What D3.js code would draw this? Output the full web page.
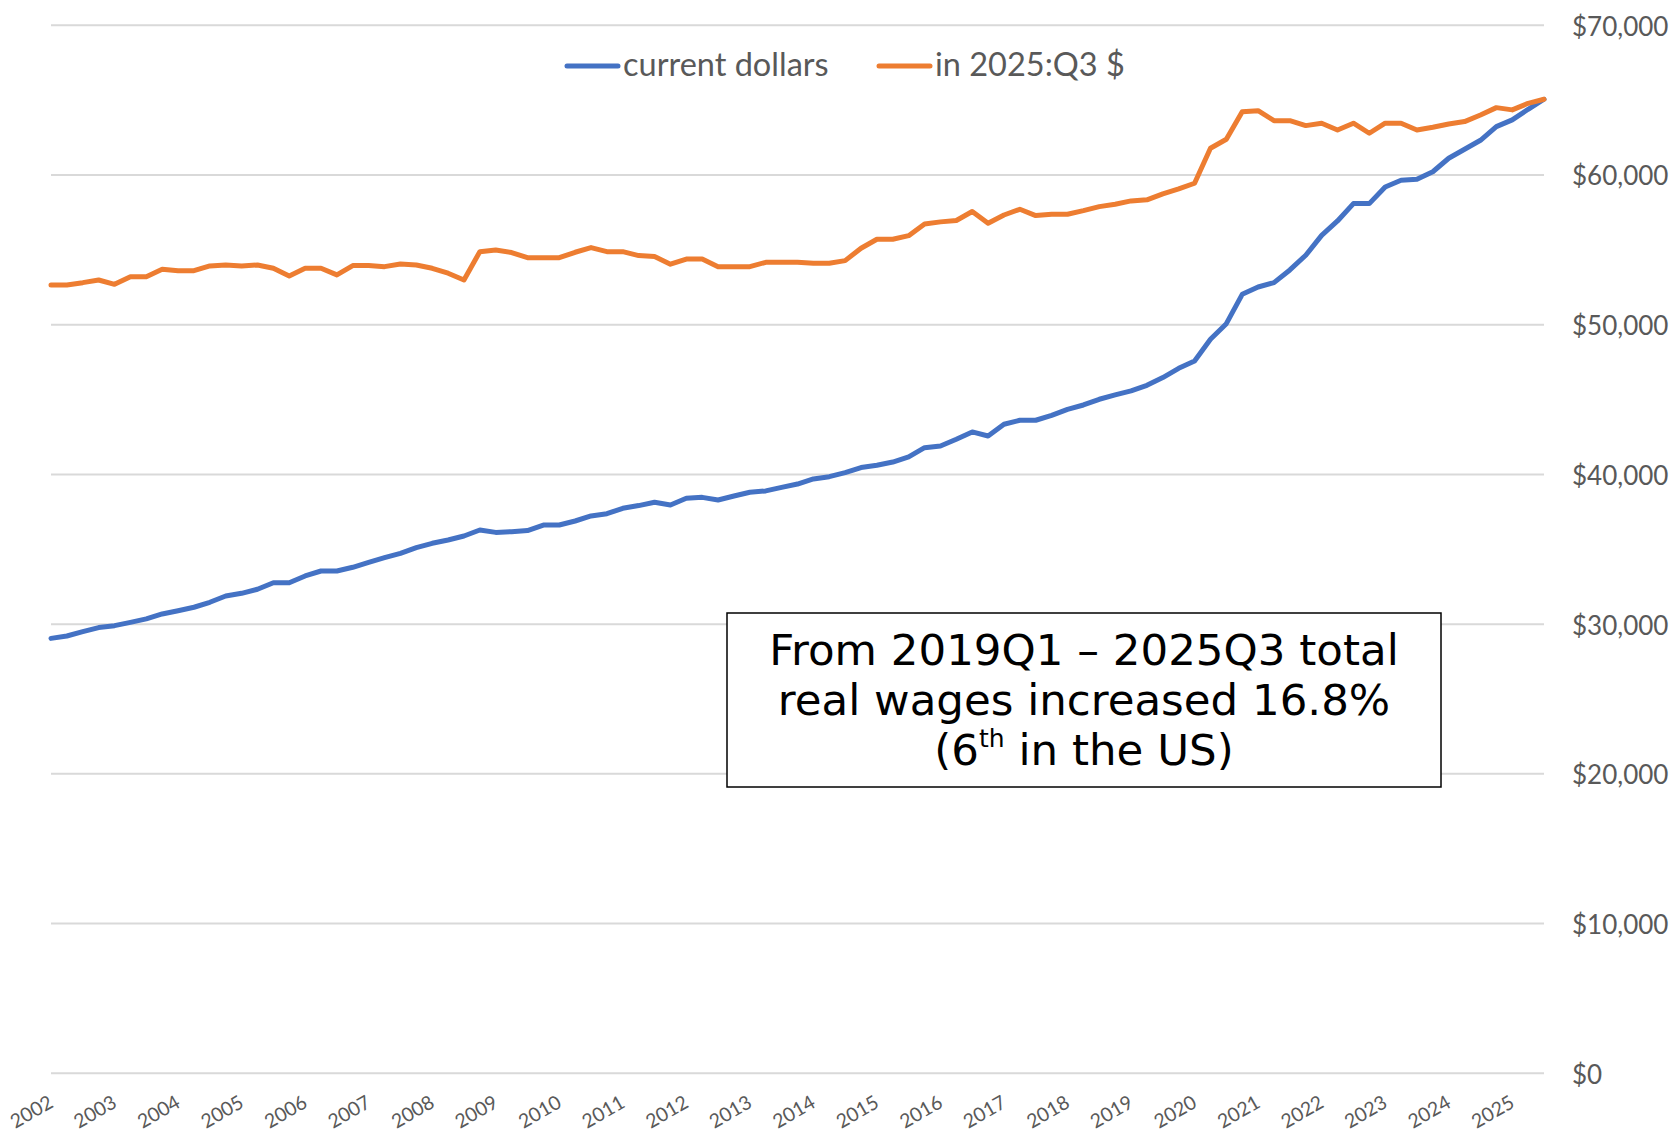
<!DOCTYPE html>
<html>
<head>
<meta charset="utf-8">
<script src="https://cdn.jsdelivr.net/npm/d3@7"></script>
<style>
  body { margin: 0; background: #ffffff; }
</style>
</head>
<body>
<svg id="chart"></svg>
<script>

// DATA
var years = [2002,2003,2004,2005,2006,2007,2008,2009,2010,2011,2012,2013,
             2014,2015,2016,2017,2018,2019,2020,2021,2022,2023,2024,2025];
var quarterNames = ["Q1","Q2","Q3","Q4"];
var lastQuarter = "2025Q3";

// current dollars
var currentDollars = [
  29050,29210,29500,29770, 29900,30120,30350,30680, 30900,31130,31460,31880,
  32060,32330,32770,32770, 33220,33550,33550,33800, 34130,34440,34730,35110,
  35400,35620,35890,36290, 36130,36180,36250,36620, 36620,36890,37230,37380,
  37740,37920,38140,37960, 38410,38470,38290,38560, 38810,38900,39140,39360,
  39700,39850,40120,40460, 40610,40830,41170,41790, 41900,42350,42840,42570,
  43350,43620,43620,43950, 44350,44640,45020,45310, 45580,45950,46470,47090,
  47580,49030,50070,52030, 52520,52810,53660,54640, 55970,56930,58090,58090,
  59200,59650,59710,60220, 61120,61720,62320,63230, 63680,64390,65060
];
// in 2025:Q3 $
var realDollars = [
  52660,52660,52810,52990, 52700,53210,53210,53700, 53610,53610,53930,53990,
  53930,53990,53770,53260, 53770,53770,53330,53950, 53950,53880,54060,53990,
  53770,53440,52990,54880, 54990,54820,54480,54480, 54480,54840,55150,54880,
  54880,54620,54550,54040, 54390,54390,53880,53880, 53880,54170,54170,54170,
  54110,54110,54280,55110, 55710,55710,55950,56730, 56870,56960,57560,56780,
  57330,57710,57290,57380, 57380,57620,57890,58050, 58270,58340,58740,59070,
  59450,61790,62390,64230, 64300,63630,63630,63300, 63460,63010,63460,62790,
  63460,63460,63010,63190, 63410,63570,64010,64500, 64350,64790,65060
];

var seriesNames = ["current dollars", "in 2025:Q3 $"];
var seriesColors = ["#4472C4", "#ED7D31"];
var yTicks = [0,10000,20000,30000,40000,50000,60000,70000];

var noteLines = ["From 2019Q1 \u2013 2025Q3 total", "real wages increased 16.8%"];

// categories: every quarter up to the last one
var quarters = [];
years.forEach(function(y){
    quarterNames.forEach(function(q){
        var k = y + q;
        if(quarters.length == 0 || quarters[quarters.length-1] != lastQuarter) quarters.push(k);
    });
});

// SIZES
var width = 1677;
var height = 1138;
var xLeft = 51, xRight = 1544;
var yTop = 25.3, yBottom = 1073.3;
var gridColor = "#D9D9D9";
var textColor = "#595959";
var labelFont = "Lato, 'Open Sans', sans-serif";

var svg = d3.select("#chart")
    .attr("width", width)
    .attr("height", height);

svg.append("rect")
    .attr("width", width)
    .attr("height", height)
    .attr("fill", "#ffffff");

var x = d3.scalePoint()
    .domain(quarters)
    .range([xLeft, xRight]);

var y = d3.scaleLinear()
    .domain([0, 70000])
    .range([yBottom, yTop]);

// gridlines
svg.append("g")
    .selectAll("line")
    .data(yTicks)
    .enter()
    .append("line")
    .attr("x1", xLeft)
    .attr("x2", xRight)
    .attr("y1", d => y(d))
    .attr("y2", d => y(d))
    .attr("stroke", gridColor)
    .attr("stroke-width", 2);

// y axis on the right
var yAxis = svg.append("g")
    .attr("transform", "translate(" + xRight + ",0)")
    .call(d3.axisRight(y)
        .tickValues(yTicks)
        .tickSize(0)
        .tickPadding(28)
        .tickFormat(d => "$" + d3.format(",")(d)));
yAxis.select(".domain").remove();
yAxis.selectAll("text")
    .attr("font-family", labelFont)
    .attr("font-size", 26)
    .attr("fill", textColor)
    .attr("dy", "0.38em");

// x axis, one label per year (Q1)
var xAxis = svg.append("g")
    .attr("transform", "translate(0," + yBottom + ")")
    .call(d3.axisBottom(x)
        .tickValues(quarters.filter(q => q.slice(4) == "Q1"))
        .tickSize(0)
        .tickFormat(q => q.slice(0,4)));
xAxis.select(".domain").remove();
xAxis.selectAll("text")
    .attr("y", 0)
    .attr("dy", 0)
    .attr("transform", "translate(3,33) rotate(-30)")
    .attr("text-anchor", "end")
    .attr("font-family", labelFont)
    .attr("font-size", 19.5)
    .attr("fill", textColor);

// lines
var line = d3.line()
    .x((d,i) => x(quarters[i]))
    .y(d => y(d));

[currentDollars, realDollars].forEach(function(values, k){
    svg.append("path")
        .datum(values)
        .attr("fill", "none")
        .attr("stroke", seriesColors[k])
        .attr("stroke-width", 5)
        .attr("stroke-linejoin", "round")
        .attr("stroke-linecap", "round")
        .attr("d", line);
});

// legend
var legendX = [567, 879];
var legend = svg.append("g");
seriesNames.forEach(function(name, k){
    legend.append("line")
        .attr("x1", legendX[k])
        .attr("x2", legendX[k] + 51)
        .attr("y1", 66)
        .attr("y2", 66)
        .attr("stroke", seriesColors[k])
        .attr("stroke-width", 5)
        .attr("stroke-linecap", "round");
    legend.append("text")
        .attr("x", legendX[k] + 56)
        .attr("y", 76)
        .attr("font-family", labelFont)
        .attr("font-size", 32.5)
        .attr("fill", textColor)
        .text(name);
});

// note box
var note = svg.append("g");
note.append("rect")
    .attr("x", 727)
    .attr("y", 613)
    .attr("width", 714)
    .attr("height", 174)
    .attr("fill", "#ffffff")
    .attr("stroke", "#000000")
    .attr("stroke-width", 1.5);

var noteCx = 1084;
var noteFont = "'DejaVu Sans', sans-serif";
noteLines.forEach(function(t, i){
    note.append("text")
        .attr("x", noteCx)
        .attr("y", 665 + i*50)
        .attr("text-anchor", "middle")
        .attr("font-family", noteFont)
        .attr("font-size", 43.5)
        .attr("fill", "#000000")
        .text(t);
});
var third = note.append("text")
    .attr("x", noteCx)
    .attr("y", 765)
    .attr("text-anchor", "middle")
    .attr("font-family", noteFont)
    .attr("font-size", 43.5)
    .attr("fill", "#000000");
third.append("tspan").text("(6");
third.append("tspan")
    .attr("font-size", 25)
    .attr("dy", -18)
    .text("th");
third.append("tspan")
    .attr("dy", 18)
    .text(" in the US)");

</script>
</body>
</html>
